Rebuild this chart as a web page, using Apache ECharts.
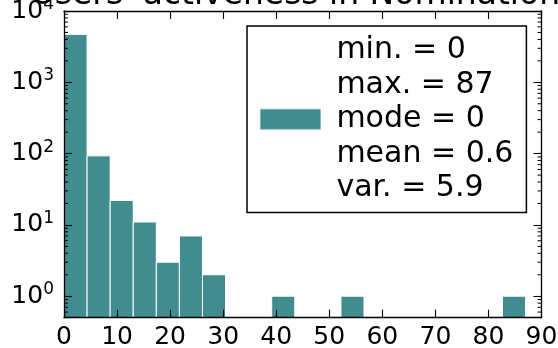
<!DOCTYPE html>
<html><head><meta charset="utf-8">
<script src="https://cdn.jsdelivr.net/npm/echarts@6/dist/echarts.min.js"></script>
<style>html,body{margin:0;padding:0;background:#fff}#c{width:558px;height:348px}</style>
</head><body><div id="c"></div>
<script>
// ---- data ----
const titleText = "Users' activeness in Nominations";
const binLow = 0;
const binHigh = 87;
const binCount = 20;
const counts = [4700, 93, 22, 11, 3, 7, 2, 0, 0, 1, 0, 0, 1, 0, 0, 0, 0, 0, 0, 1];
const xTickValues = [0, 10, 20, 30, 40, 50, 60, 70, 80, 90];
const yMajorTicks = [1, 10, 100, 1000, 10000];
const yMinorTicks = [0.6, 0.7, 0.8, 0.9,
  2, 3, 4, 5, 6, 7, 8, 9,
  20, 30, 40, 50, 60, 70, 80, 90,
  200, 300, 400, 500, 600, 700, 800, 900,
  2000, 3000, 4000, 5000, 6000, 7000, 8000, 9000];
const statsLines = ['min. = 0', 'max. = 87', 'mode = 0', 'mean = 0.6', 'var. = 5.9'];

// ---- build ----
const FONT = 'DejaVu Sans';
const barColor = '#418c8f';
const yMin = 0.5, yMax = 10000;
const binW = (binHigh - binLow) / binCount;
const barData = [];
counts.forEach((c, i) => { if (c > 0) barData.push([binLow + i * binW, binLow + (i + 1) * binW, c]); });
const seriesName = statsLines.join('\n');

const chart = echarts.init(document.getElementById('c'), null, {renderer: 'canvas'});
const axisLineStyle = {color: '#000', width: 1.3};
function yLabelFmt(v) {
  const l = Math.log10(v);
  const e = Math.round(l);
  if (Math.abs(l - e) > 1e-6 || yMajorTicks.indexOf(Math.pow(10, e)) < 0) return '';
  return '{b|10}{s|' + e + '}';
}
chart.setOption({
  animation: false,
  backgroundColor: '#fff',
  grid: {left: 64, right: 16.5, top: 11, bottom: 30.3, outerBoundsMode: 'none', containLabel: false},
  graphic: [{
    type: 'text', x: 304, y: -5, z: 0,
    style: {text: titleText, font: '33px "DejaVu Sans"', fill: '#000', align: 'center', verticalAlign: 'middle'}
  }],
  legend: {
    data: [{name: seriesName, icon: 'rect'}],
    left: 247, top: 26,
    padding: [7, 13, 7, 13],
    itemWidth: 60, itemHeight: 20,
    backgroundColor: '#fff', borderColor: '#000', borderWidth: 1.5, borderRadius: 0,
    selectedMode: false,
    itemStyle: {color: barColor, borderColor: '#7fb3b5', borderWidth: 0.8},
    textStyle: {fontFamily: FONT, fontSize: 30, lineHeight: 34.5, color: '#000', padding: [0, 0, 0, 11]}
  },
  xAxis: [
    {type: 'value', position: 'bottom', min: 0, max: 90, interval: 10, z: 5,
     axisLine: {show: true, lineStyle: axisLineStyle, onZero: false},
     axisTick: {show: true, inside: true, length: 8, lineStyle: {color: '#000', width: 1.1}},
     axisLabel: {show: true, margin: 7, fontFamily: FONT, fontSize: 25, color: '#000',
       customValues: xTickValues},
     splitLine: {show: false}},
    {type: 'value', position: 'top', min: 0, max: 90, interval: 10, z: 5,
     axisLine: {show: true, lineStyle: axisLineStyle, onZero: false},
     axisTick: {show: true, inside: true, length: 8, lineStyle: {color: '#000', width: 1.1}},
     axisLabel: {show: false}, splitLine: {show: false}}
  ],
  yAxis: [
    {type: 'log', logBase: 10, position: 'left', min: yMin, max: yMax, z: 5,
     axisLine: {show: true, lineStyle: axisLineStyle, onZero: false},
     axisTick: {show: true, inside: true, length: 8, lineStyle: {color: '#000', width: 1.1}},
     axisLabel: {show: true, margin: 10, formatter: yLabelFmt, showMinLabel: true, showMaxLabel: true,
       rich: {
         b: {fontFamily: FONT, fontSize: 25, color: '#000', lineHeight: 30},
         s: {fontFamily: FONT, fontSize: 17, color: '#000', verticalAlign: 'top', lineHeight: 17}
       }},
     splitLine: {show: false}},
    {type: 'log', logBase: 10, position: 'right', min: yMin, max: yMax, z: 5,
     axisLine: {show: true, lineStyle: axisLineStyle, onZero: false},
     axisTick: {show: true, inside: true, length: 8, lineStyle: {color: '#000', width: 1.1}},
     axisLabel: {show: false}, splitLine: {show: false}}
  ],
  series: [
    {
      type: 'custom', name: seriesName, coordinateSystem: 'cartesian2d',
      xAxisIndex: 0, yAxisIndex: 0,
      itemStyle: {color: barColor},
      encode: {x: [0, 1], y: 2},
      data: barData,
      renderItem: function (params, api) {
        const p0 = api.coord([api.value(0), api.value(2)]);
        const p1 = api.coord([api.value(1), yMin]);
        return {type: 'rect', shape: {x: p0[0], y: p0[1], width: p1[0] - p0[0], height: p1[1] - p0[1]},
          style: {fill: barColor, stroke: '#fff', lineWidth: 1}};
      }
    },
    {
      type: 'custom', name: 'minorTicks', coordinateSystem: 'cartesian2d', silent: true, z: 10,
      xAxisIndex: 0, yAxisIndex: 0,
      encode: {y: 0},
      data: yMinorTicks.map(v => [v]),
      renderItem: function (params, api) {
        const v = api.value(0);
        const pl = api.coord([0, v]);
        const pr = api.coord([90, v]);
        return {type: 'group', children: [
          {type: 'line', shape: {x1: pl[0], y1: pl[1], x2: pl[0] + 4, y2: pl[1]}, style: {stroke: '#000', lineWidth: 1}},
          {type: 'line', shape: {x1: pr[0], y1: pr[1], x2: pr[0] - 4, y2: pr[1]}, style: {stroke: '#000', lineWidth: 1}}
        ]};
      }
    }
  ]
});
</script></body></html>
